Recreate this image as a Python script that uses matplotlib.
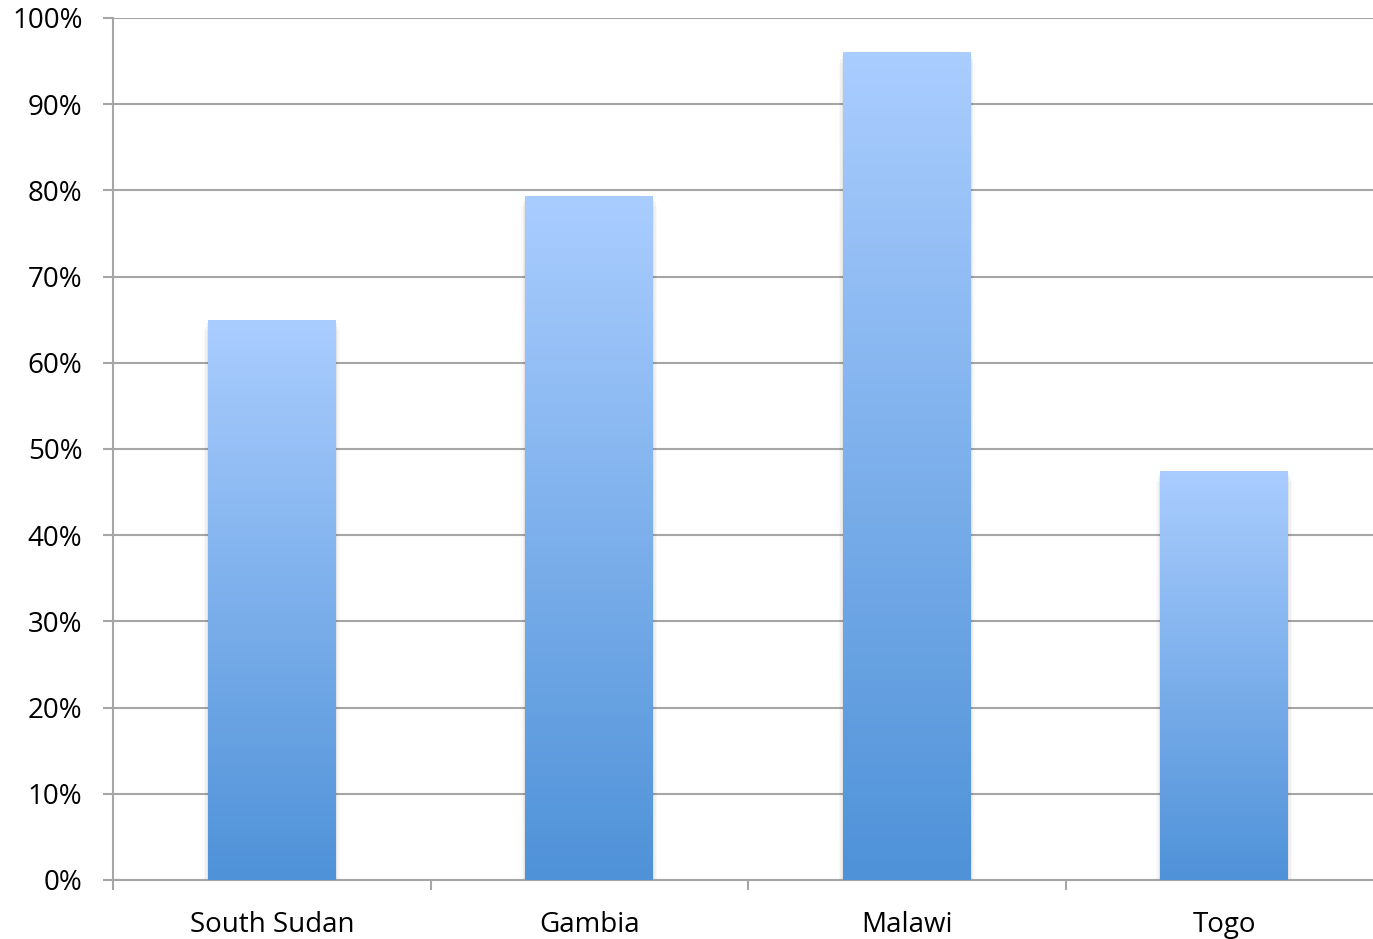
import numpy as np
import matplotlib
matplotlib.use("Agg")
import matplotlib.pyplot as plt
from matplotlib.colors import LinearSegmentedColormap
from matplotlib.patches import Rectangle

countries = ["South Sudan", "Gambia", "Malawi", "Togo"]
shares = [65.0, 79.4, 96.0, 47.5]
y_ticks = [0, 10, 20, 30, 40, 50, 60, 70, 80, 90, 100]
y_labels = [f"{t}%" for t in y_ticks]

plt.rcParams['font.family'] = ['Open Sans', 'DejaVu Sans']

W, H = 1373, 939
fig = plt.figure(figsize=(W / 100, H / 100), dpi=100)
# plot area runs slightly past the right edge of the canvas
ax = fig.add_axes([113 / W, (H - 880) / H, (1383 - 113) / W, (880 - 18) / H])

grid_col = "#a6a6a6"
x = np.arange(len(countries))
bar_w = 0.403
bars = ax.bar(x, shares, width=bar_w, color="none", edgecolor="none", zorder=3)

cmap = LinearSegmentedColormap.from_list("blue_fade", ["#4f92d8", "#aacdff"])
grad = np.linspace(0, 1, 256).reshape(-1, 1)
for b in bars:
    x0, w, h = b.get_x(), b.get_width(), b.get_height()
    # soft drop shadow
    for k, a in enumerate([0.05, 0.035, 0.025]):
        off = 0.004 * (k + 1)
        sh = Rectangle((x0 - off, 0), w + 2 * off, h - 0.4 * (k + 1),
                       facecolor="black", alpha=a, edgecolor="none", zorder=2)
        ax.add_patch(sh)
    im = ax.imshow(grad, extent=(x0, x0 + w, 0, h), origin="lower",
                   cmap=cmap, aspect="auto", zorder=3, interpolation="bicubic")
    im.set_clip_path(b)

ax.set_xlim(-0.5, len(countries) - 0.5)
ax.set_ylim(0, 100)
ax.set_yticks(y_ticks)
ax.set_yticklabels(y_labels)
ax.set_xticks(x)
ax.set_xticklabels(countries)
ax.set_xticks(np.arange(len(countries) + 1) - 0.5, minor=True)

ax.yaxis.grid(True, color=grid_col, linewidth=1.5, zorder=1)
ax.set_axisbelow(True)
for s in ["top", "right"]:
    ax.spines[s].set_visible(False)
for s in ["left", "bottom"]:
    ax.spines[s].set_color(grid_col)
    ax.spines[s].set_linewidth(1.5)

ax.tick_params(axis="y", length=7, width=1.5, color=grid_col, labelsize=20, pad=15)
ax.tick_params(axis="x", which="major", length=0, labelsize=20, pad=22)
ax.tick_params(axis="x", which="minor", length=7, width=1.5, color=grid_col)

fig.savefig("out.png", dpi=100, facecolor="white")
